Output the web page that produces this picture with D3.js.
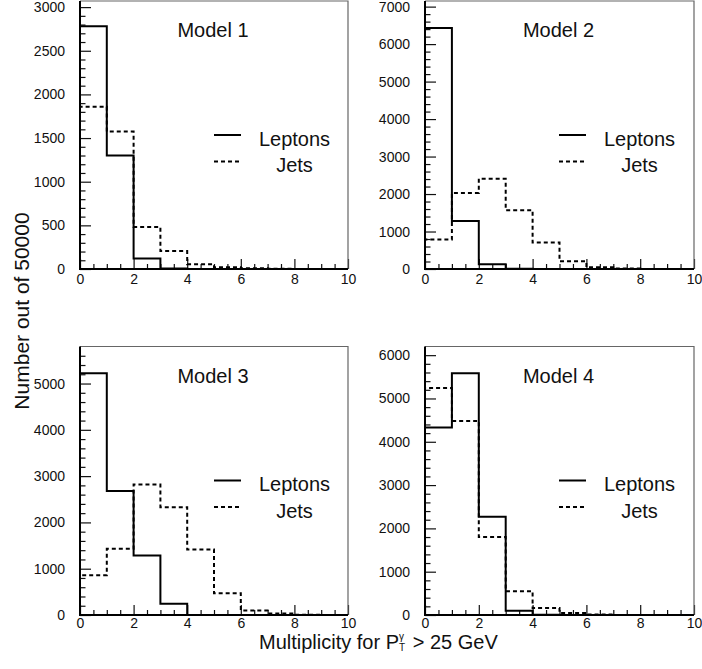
<!DOCTYPE html>
<html>
<head>
<meta charset="utf-8">
<script src="https://cdn.jsdelivr.net/npm/d3@7/dist/d3.min.js"></script>
<style>
  body { margin: 0; background: #fff; }
  text { font-family: "Liberation Sans", Arial, Helvetica, sans-serif; fill: #111; }
</style>
</head>
<body>
<div id="chart"></div>
<script>
// data (bins of width 1 from 0 to 10)
var models = ["Model 1", "Model 2", "Model 3", "Model 4"];
var binEdges = [0, 1, 2, 3, 4, 5, 6, 7, 8, 9, 10];

var leptons1 = [2780, 1300, 120, 5, 0, 0, 0, 0, 0, 0];
var jets1    = [1860, 1575, 480, 205, 55, 20, 8, 3, 1, 0];

var leptons2 = [6430, 1280, 125, 8, 0, 0, 0, 0, 0, 0];
var jets2    = [790, 2030, 2410, 1570, 705, 205, 45, 12, 3, 0];

var leptons3 = [5220, 2680, 1285, 245, 0, 0, 0, 0, 0, 0];
var jets3    = [860, 1430, 2820, 2330, 1415, 470, 95, 30, 5, 1];

var leptons4 = [4330, 5580, 2270, 100, 5, 0, 0, 0, 0, 0];
var jets4    = [5240, 4480, 1800, 550, 160, 45, 10, 2, 0, 0];

var yMax   = [3070, 7150, 5800, 6200];
var yMajor = [500, 1000, 1000, 1000];
var yMinor = [100, 200, 200, 200];

var legendLabels = ["Leptons", "Jets"];

var width = 702, height = 669;

var svg = d3.select('#chart')
  .append('svg')
  .attr('width', width)
  .attr('height', height);

// panel frames in pixels
var cols = [[80, 348], [425, 694]];
var rows = [[1, 269], [346.5, 615]];

var series = [
  [leptons1, jets1],
  [leptons2, jets2],
  [leptons3, jets3],
  [leptons4, jets4]
];

models.forEach(function (name, i) {
  var c = cols[i % 2], r = rows[Math.floor(i / 2)];

  var x = d3.scaleLinear().domain([0, 10]).range(c);
  var y = d3.scaleLinear().domain([0, yMax[i]]).range([r[1], r[0]]);

  var g = svg.append('g');

  // minor ticks
  var yMinorVals = d3.range(0, yMax[i], yMinor[i]).filter(function (v) { return v % yMajor[i] !== 0; });
  g.append('g')
    .attr('transform', 'translate(' + c[0] + ',0)')
    .call(d3.axisLeft(y).tickValues(yMinorVals).tickSize(-5.5).tickFormat(''))
    .call(function (a) { a.select('.domain').remove(); });

  g.append('g')
    .attr('transform', 'translate(0,' + r[1] + ')')
    .call(d3.axisBottom(x).tickValues(d3.range(0.5, 10, 0.5).filter(function (v) { return v % 2 !== 0; }))
      .tickSize(-5).tickFormat(''))
    .call(function (a) { a.select('.domain').remove(); });

  // major ticks + labels
  g.append('g')
    .attr('transform', 'translate(' + c[0] + ',0)')
    .call(d3.axisLeft(y).tickValues(d3.range(0, yMax[i], yMajor[i]))
      .tickFormat(d3.format('d')).tickSize(-11).tickPadding(15))
    .call(function (a) {
      a.select('.domain').remove();
      a.selectAll('text').style('font-size', '14px').style('font-family', null);
    });

  g.append('g')
    .attr('transform', 'translate(0,' + r[1] + ')')
    .call(d3.axisBottom(x).tickValues([0, 2, 4, 6, 8, 10])
      .tickFormat(d3.format('d')).tickSize(-10).tickPadding(i < 2 ? 5 : 3.5))
    .call(function (a) {
      a.select('.domain').remove();
      a.selectAll('text').style('font-size', '14px').style('font-family', null);
    });

  g.selectAll('.tick line').attr('stroke', '#111').attr('stroke-width', 1.2);

  // histograms
  series[i].forEach(function (vals, k) {
    var p = d3.path();
    p.moveTo(x(binEdges[0]), y(0));
    vals.forEach(function (v, b) {
      p.lineTo(x(binEdges[b]), y(v));
      p.lineTo(x(binEdges[b + 1]), y(v));
    });
    p.lineTo(x(binEdges[binEdges.length - 1]), y(0));
    g.append('path')
      .attr('d', p.toString())
      .attr('fill', 'none')
      .attr('stroke', '#000')
      .attr('stroke-width', 2)
      .attr('stroke-dasharray', k === 1 ? '4,3' : null);
  });

  // frame: top/right grey, left/bottom black
  g.append('path')
    .attr('d', 'M' + c[0] + ',' + r[0] + 'H' + c[1] + 'V' + r[1])
    .attr('fill', 'none').attr('stroke', '#666').attr('stroke-width', 1.2);
  g.append('path')
    .attr('d', 'M' + c[0] + ',' + r[0] + 'V' + r[1] + 'H' + c[1])
    .attr('fill', 'none').attr('stroke', '#000').attr('stroke-width', 2);

  // title
  g.append('text')
    .attr('x', (c[0] + c[1]) / 2 - 1)
    .attr('y', r[0] + 36)
    .attr('text-anchor', 'middle')
    .style('font-size', '20px')
    .text(name);

  // legend
  legendLabels.forEach(function (lab, k) {
    var ly = r[0] + 134 + k * 26.5;
    g.append('line')
      .attr('x1', c[0] + 134).attr('x2', c[0] + 161)
      .attr('y1', ly).attr('y2', ly)
      .attr('stroke', '#000').attr('stroke-width', 2)
      .attr('stroke-dasharray', k === 1 ? '4,3' : null);
    g.append('text')
      .attr('x', c[0] + 214.5)
      .attr('y', ly + 10.5)
      .attr('text-anchor', 'middle')
      .style('font-size', '20px')
      .text(lab);
  });
});

// axis titles
svg.append('text')
  .attr('transform', 'translate(29,311) rotate(-90)')
  .attr('text-anchor', 'middle')
  .style('font-size', '21px')
  .text('Number out of 50000');

var xt = svg.append('text')
  .attr('x', 259)
  .attr('y', 649)
  .style('font-size', '20px');
xt.append('tspan').text('Multiplicity for P');
xt.append('tspan').attr('dy', -9.5).style('font-size', '10px').text('γ');
xt.append('tspan').attr('dx', -5).attr('dy', 11.5).style('font-size', '10px').text('T');
xt.append('tspan').attr('dx', 2).attr('dy', -2).text(' > 25 GeV');
</script>
</body>
</html>
